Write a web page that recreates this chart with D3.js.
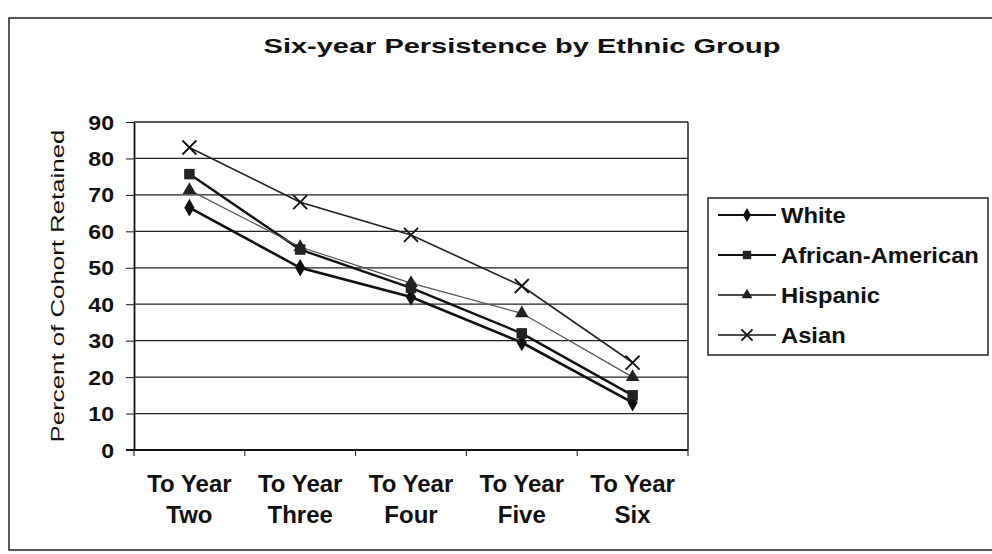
<!DOCTYPE html>
<html><head><meta charset="utf-8">
<script src="https://cdn.jsdelivr.net/npm/d3@7"></script>
<style>body{margin:0;background:#fff}svg{display:block}text{font-family:Arial,"Liberation Sans",sans-serif;fill:#111}</style>
</head><body>
<script>
const categories = [["To Year","Two"],["To Year","Three"],["To Year","Four"],["To Year","Five"],["To Year","Six"]];
const seriesNames = ["White","African-American","Hispanic","Asian"];
const white = [66.5, 50, 42, 29.5, 13];
const africanAmerican = [75.7, 55, 44.5, 32, 15];
const hispanic = [71.3, 55.7, 45.8, 37.5, 20];
const asian = [83, 68, 59, 45, 24];
const yTicks = [0,10,20,30,40,50,60,70,80,90];

const W=992,H=554;
const svg=d3.select("body").append("svg").attr("width",W).attr("height",H);

function stext(parent,x,y,str,size,weight,sx,anchor,rot){
  const g=parent.append("g").attr("transform",`translate(${x},${y})${rot?` rotate(${rot})`:""} scale(${sx},1)`);
  g.append("text").attr("text-anchor",anchor||"start").attr("font-size",size).attr("font-weight",weight||"normal").text(str);
  return g;
}

svg.append("rect").attr("x",9).attr("y",18).attr("width",990).attr("height",532).attr("fill","#fff").attr("stroke","#222").attr("stroke-width",1.5);
stext(svg,522,53,"Six-year Persistence by Ethnic Group",21,"bold",1.38,"middle");

const L=134,R=688,T=122,B=450;
const x=d3.scaleBand().domain(d3.range(categories.length)).range([L,R]);
const y=d3.scaleLinear().domain([0,90]).range([B,T]);

// gridlines
svg.append("g").selectAll("line").data(yTicks.filter(d=>d>0)).join("line")
 .attr("x1",L).attr("x2",R).attr("y1",d=>y(d)).attr("y2",d=>y(d)).attr("stroke","#222").attr("stroke-width",1.3);
svg.append("line").attr("x1",R).attr("x2",R).attr("y1",T).attr("y2",B).attr("stroke","#222").attr("stroke-width",1.5);

// y axis
const ya=svg.append("g").attr("transform",`translate(${L},0)`).call(d3.axisLeft(y).tickValues(yTicks).tickSize(8).tickFormat("").tickSizeOuter(0));
ya.select(".domain").attr("stroke","#111").attr("stroke-width",1.8);
ya.selectAll(".tick line").attr("stroke","#111");
yTicks.forEach(t=>stext(svg,L-20,y(t)+7.5,String(t),21,"bold",1.1,"end"));

// x axis
const xa=svg.append("g").attr("transform",`translate(0,${B})`);
xa.append("line").attr("x1",L-8).attr("x2",R).attr("stroke","#111").attr("stroke-width",1.8);
xa.selectAll("line.t").data(d3.range(categories.length+1)).join("line").attr("class","t")
 .attr("x1",d=>L+d*x.step()).attr("x2",d=>L+d*x.step()).attr("y1",0).attr("y2",6).attr("stroke","#111");
categories.forEach((c,i)=>{
  const cx=x(i)+x.bandwidth()/2;
  stext(xa,cx,42,c[0],24,"bold",1.0,"middle");
  stext(xa,cx,73,c[1],24,"bold",1.0,"middle");
});

stext(svg,64,(T+B)/2,"Percent of Cohort Retained",19,"normal",1.36,"middle",-90);

const series=[
 {name:seriesNames[0],vals:white,sym:d3.symbolDiamond,size:90,sw:2.6,col:"#111",fill:"#111"},
 {name:seriesNames[1],vals:africanAmerican,sym:d3.symbolSquare,size:110,sw:2.4,col:"#111",fill:"#222"},
 {name:seriesNames[2],vals:hispanic,sym:d3.symbolTriangle,size:80,sw:1.2,col:"#555",fill:"#222"},
 {name:seriesNames[3],vals:asian,sym:d3.symbolCross,size:0,sw:1.6,col:"#222",fill:"none"}
];
const line=d3.line().x((d,i)=>x(i)+x.bandwidth()/2).y(d=>y(d));
function marker(g,s,cx,cy,scale){
  if(s.sym===d3.symbolCross){
    const r=7*scale;
    g.append("path").attr("d",`M${cx-r},${cy-r}L${cx+r},${cy+r}M${cx-r},${cy+r}L${cx+r},${cy-r}`).attr("stroke","#111").attr("stroke-width",1.8).attr("fill","none");
  } else {
    g.append("path").attr("d",d3.symbol().type(s.sym).size(s.size*scale*scale)()).attr("transform",`translate(${cx},${cy})`).attr("fill",s.fill);
  }
}
series.forEach(s=>{
  svg.append("path").datum(s.vals).attr("d",line).attr("fill","none").attr("stroke",s.col).attr("stroke-width",s.sw);
});
series.forEach(s=>{
  const g=svg.append("g");
  s.vals.forEach((v,i)=>marker(g,s,x(i)+x.bandwidth()/2,y(v),1));
});

// legend
const lg=svg.append("g");
lg.append("rect").attr("x",708).attr("y",198).attr("width",280).attr("height",157).attr("fill","#fff").attr("stroke","#222").attr("stroke-width",1.5);
series.forEach((s,i)=>{
  const cy=215+i*40;
  lg.append("line").attr("x1",718).attr("x2",776).attr("y1",cy).attr("y2",cy).attr("stroke","#111").attr("stroke-width",s.sw>2?2:1.5);
  marker(lg,s,747,cy,0.8);
  stext(lg,781,cy+8,s.name,22,"bold",1.08,"start");
});
</script>
</body></html>
